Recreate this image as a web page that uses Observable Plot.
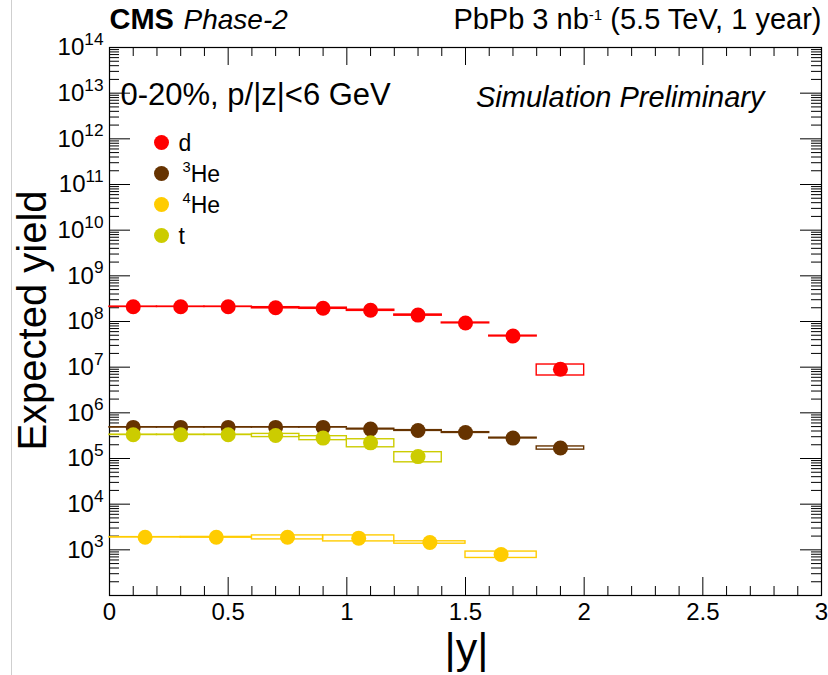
<!DOCTYPE html>
<html><head><meta charset="utf-8">
<script src="https://cdn.jsdelivr.net/npm/d3@7"></script>
<script src="https://cdn.jsdelivr.net/npm/@observablehq/plot@0.6"></script>
<style>
html,body{margin:0;padding:0;background:#fff;}
#wrap{position:relative;width:828px;height:675px;overflow:hidden;background:#fff;}
#wrap svg{position:absolute;left:0;top:0;}
#edge{position:absolute;left:11px;top:0;width:1px;height:675px;background:#cfcfcf;}
</style></head><body><div id="wrap"><div id="edge"></div></div>
<script>
// ---------------- data ----------------
const binCenters = [0.1, 0.3, 0.5, 0.7, 0.9, 1.1, 1.3, 1.5, 1.7, 1.9];
const binWidth = 0.2;
const he4BinCenters = [0.15, 0.45, 0.75, 1.05, 1.35, 1.65];
const he4BinWidth = 0.3;

const dYield   = [2.1e8, 2.1e8, 2.1e8, 2.0e8, 1.95e8, 1.76e8, 1.38e8, 9.3e7, 4.8e7, 9.0e6];
const dSyst    = [0.01, 0.01, 0.01, 0.03, 0.03, 0.03, 0.03, 0.02, 0.02, 0.27];
const he3Yield = [4.8e5, 4.8e5, 4.8e5, 4.8e5, 4.8e5, 4.4e5, 4.1e5, 3.7e5, 2.8e5, 1.7e5];
const he3Syst  = [0.01, 0.01, 0.01, 0.01, 0.01, 0.02, 0.02, 0.02, 0.02, 0.08];
const tYield   = [3.3e5, 3.3e5, 3.3e5, 3.2e5, 2.8e5, 2.2e5, 1.1e5];
const tSyst    = [0.01, 0.01, 0.01, 0.08, 0.1, 0.2, 0.25];
const he4Yield = [1.88e3, 1.88e3, 1.88e3, 1.8e3, 1.45e3, 7.9e2];
const he4Syst  = [0.01, 0.02, 0.1, 0.15, 0.06, 0.16];

const speciesNames  = ["d", "^{3}He", "^{4}He", "t"];
const speciesColors = ["#ff0000", "#663300", "#ffcc00", "#cccc00"];

const xMajorTicks = [0, 0.5, 1, 1.5, 2, 2.5, 3];
const xTickLabels = ["0", "0.5", "1", "1.5", "2", "2.5", "3"];
const yLabelExponents = [3, 4, 5, 6, 7, 8, 9, 10, 11, 12, 13, 14];
const yDomain = [1e2, 1e14];

// ---------------- helpers ----------------
function rows(centers, width, values, syst) {
  return values.map((v, i) => ({
    x: centers[i], x1: centers[i] - width / 2, x2: centers[i] + width / 2,
    y: v, lo: v * (1 - syst[i]), hi: v * (1 + syst[i])
  }));
}
const series = [
  {rows: rows(binCenters, binWidth, dYield, dSyst), color: speciesColors[0]},
  {rows: rows(binCenters, binWidth, he3Yield, he3Syst), color: speciesColors[1]},
  {rows: rows(he4BinCenters, he4BinWidth, he4Yield, he4Syst), color: speciesColors[2]},
  {rows: rows(binCenters, binWidth, tYield, tSyst), color: speciesColors[3]}
];

// axis decoration values
const yMajor = d3.range(2, 15).map(e => Math.pow(10, e));
const yMinor = [];
for (let e = 2; e < 14; e++) for (let k = 2; k <= 9; k++) yMinor.push(k * Math.pow(10, e));
const xMinor = d3.range(1, 30).map(i => i / 10).filter(v => Math.abs(v * 2 - Math.round(v * 2)) > 1e-6);

const WIDTH = 828, HEIGHT = 675;
const ML = 109, MR = 7, MT = 47, MB = 80;
const FW = WIDTH - ML - MR, FH = HEIGHT - MT - MB;
const FONT = '"Liberation Sans", Arial, Helvetica, sans-serif';

const marks = [
  Plot.frame({stroke: "black", strokeWidth: 1.2}),
  Plot.tickY(yMinor, {y: d => d, insetRight: FW - 10, stroke: "black"}),
  Plot.tickY(yMinor, {y: d => d, insetLeft: FW - 10, stroke: "black"}),
  Plot.tickY(yMajor, {y: d => d, insetRight: FW - 21, stroke: "black"}),
  Plot.tickY(yMajor, {y: d => d, insetLeft: FW - 21, stroke: "black"}),
  Plot.tickX(xMinor, {x: d => d, insetTop: FH - 9, stroke: "black"}),
  Plot.tickX(xMinor, {x: d => d, insetBottom: FH - 9, stroke: "black"}),
  Plot.tickX(xMajorTicks, {x: d => d, insetTop: FH - 18, stroke: "black"}),
  Plot.tickX(xMajorTicks, {x: d => d, insetBottom: FH - 18, stroke: "black"}),
  Plot.axisX({ticks: xMajorTicks, tickSize: 0, tickPadding: 7, fontSize: 24,
    tickFormat: d => xTickLabels[xMajorTicks.indexOf(d)], label: null}),
  Plot.axisY({ticks: yLabelExponents.map(e => Math.pow(10, e)), tickSize: 0, tickPadding: 6, fontSize: 24,
    tickFormat: d => `10^{${Math.round(Math.log10(d))}}`, label: null})
];

for (const s of series) {
  marks.push(Plot.rect(s.rows, {x1: "x1", x2: "x2", y1: "lo", y2: "hi", fill: "none", stroke: s.color, strokeWidth: 1.4}));
}
for (const s of series) {
  marks.push(Plot.dot(s.rows, {x: "x", y: "y", r: 7.5, fill: s.color, stroke: "none"}));
}

// legend
speciesNames.forEach((name, i) => {
  marks.push(Plot.dot([name], {frameAnchor: "top-left", dx: 52, dy: 95 + i * 31, r: 7.5, fill: speciesColors[i]}));
  marks.push(Plot.text([name], {frameAnchor: "top-left", dx: i === 0 || i === 3 ? 69 : 73, dy: 96 + i * 31, text: d => d,
    textAnchor: "start", lineAnchor: "middle", fontSize: 23, fill: "black"}));
});

// header / annotation texts
marks.push(
  Plot.text(["CMS"], {frameAnchor: "top-left", dx: 0, dy: -19, text: d => d, textAnchor: "start", lineAnchor: "bottom", fontSize: 29, fontWeight: "bold", fill: "black"}),
  Plot.text(["Phase-2"], {frameAnchor: "top-left", dx: 74, dy: -19, text: d => d, textAnchor: "start", lineAnchor: "bottom", fontSize: 28, fontStyle: "italic", fill: "black"}),
  Plot.text(["PbPb 3 nb^{-1} (5.5 TeV, 1 year)"], {frameAnchor: "top-right", dx: 0, dy: -19, text: d => d, textAnchor: "end", lineAnchor: "bottom", fontSize: 29, fill: "black"}),
  Plot.text(["0-20%, p/|z|<6 GeV"], {frameAnchor: "top-left", dx: 11, dy: 57, text: d => d, textAnchor: "start", lineAnchor: "bottom", fontSize: 31, fill: "black"}),
  Plot.text(["Simulation Preliminary"], {frameAnchor: "top-right", dx: -57, dy: 59, text: d => d, textAnchor: "end", lineAnchor: "bottom", fontSize: 29, fontStyle: "italic", fill: "black"}),
  Plot.text(["Expected yield"], {frameAnchor: "left", dx: -76, dy: -1, text: d => d, rotate: -90, textAnchor: "middle", lineAnchor: "middle", fontSize: 40, fill: "black"}),
  Plot.text(["|y|"], {frameAnchor: "bottom", dx: 1, dy: 67, text: d => d, textAnchor: "middle", lineAnchor: "bottom", fontSize: 43, fill: "black"})
);

const chart = Plot.plot({
  width: WIDTH, height: HEIGHT,
  marginLeft: ML, marginRight: MR, marginTop: MT, marginBottom: MB,
  style: {fontFamily: FONT, background: "transparent", overflow: "visible", color: "black"},
  x: {domain: [0, 3]},
  y: {type: "log", domain: yDomain},
  marks
});

// turn ^{...} markup into real superscript tspans
function supStyle(s) {
  if (s.startsWith("PbPb")) return {size: 0.52, raise: 0.3};
  if (s.startsWith("10^")) return {size: 0.72, raise: 0.42};
  return {size: 0.64, raise: 0.42};
}
function supify(root) {
  const NS = "http://www.w3.org/2000/svg";
  root.querySelectorAll("text").forEach(t => {
    const s = t.textContent;
    if (!s.includes("^{")) return;
    const st = supStyle(s);
    while (t.firstChild) t.removeChild(t.firstChild);
    const re = /\^\{([^}]*)\}/g;
    let last = 0, m, prevSup = false;
    const add = (str, sup) => {
      if (!str) return;
      const ts = document.createElementNS(NS, "tspan");
      ts.textContent = str;
      if (sup) { ts.setAttribute("font-size", st.size + "em"); ts.setAttribute("dy", (-st.raise / st.size).toFixed(3) + "em"); }
      else if (prevSup) { ts.setAttribute("dy", st.raise + "em"); }
      prevSup = sup;
      t.appendChild(ts);
    };
    while ((m = re.exec(s))) {
      add(s.slice(last, m.index), false);
      add(m[1], true);
      last = re.lastIndex;
    }
    add(s.slice(last), false);
  });
}
supify(chart);
document.getElementById("wrap").insertBefore(chart, document.getElementById("edge"));
</script></body></html>
